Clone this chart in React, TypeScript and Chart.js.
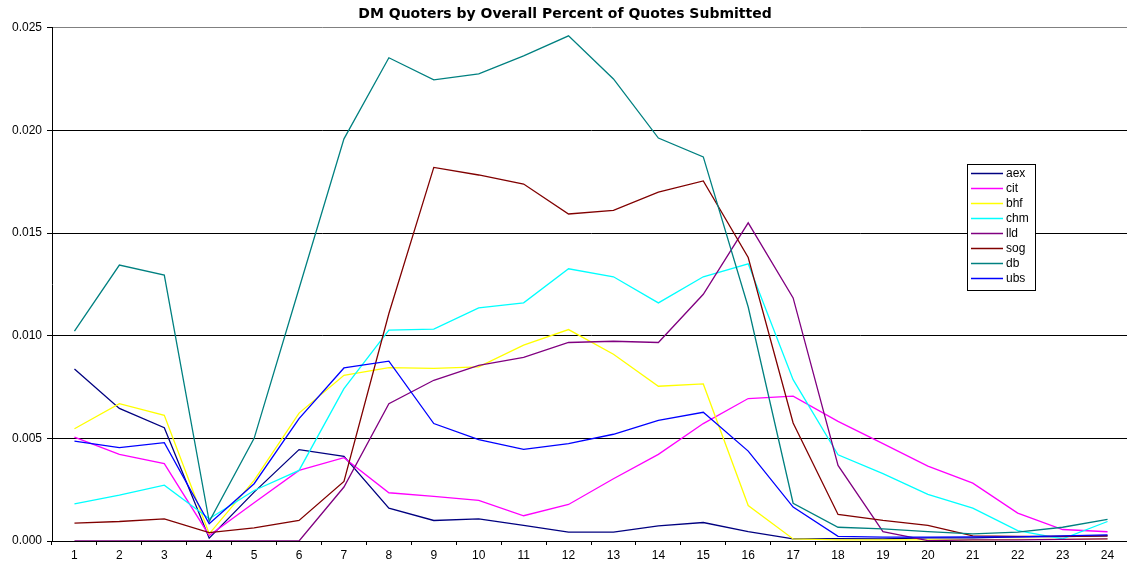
import React, { useEffect, useRef } from "react";
import { Chart, registerables } from "chart.js";

Chart.register(...registerables);

const categories = ["1","2","3","4","5","6","7","8","9","10","11","12","13","14","15","16","17","18","19","20","21","22","23","24"];

const seriesNames = ["aex", "cit", "bhf", "chm", "lld", "sog", "db", "ubs"];
const seriesColors = ["#000080", "#FF00FF", "#FFFF00", "#00FFFF", "#800080", "#800000", "#008080", "#0000FF"];

const aex = [0.00838, 0.00646, 0.00552, 0.00014, 0.00238, 0.00445, 0.00412, 0.00160, 0.00100, 0.00108, 0.00076, 0.00043, 0.00043, 0.00074, 0.00090, 0.00046, 0.00010, 0.00012, 0.00010, 0.00015, 0.00015, 0.00020, 0.00022, 0.00025];
const cit = [0.00506, 0.00422, 0.00377, 0.00027, 0.00186, 0.00344, 0.00406, 0.00235, 0.00217, 0.00198, 0.00123, 0.00178, 0.00303, 0.00422, 0.00572, 0.00694, 0.00706, 0.00583, 0.00474, 0.00365, 0.00282, 0.00136, 0.00056, 0.00045];
const bhf = [0.00547, 0.00669, 0.00612, 0.00035, 0.00295, 0.00623, 0.00807, 0.00845, 0.00841, 0.00848, 0.00954, 0.01030, 0.00910, 0.00754, 0.00765, 0.00173, 0.00010, 0.00005, 0.00005, 0.00005, 0.00005, 0.00008, 0.00008, 0.00010];
const chm = [0.00181, 0.00223, 0.00272, 0.00108, 0.00246, 0.00344, 0.00742, 0.01027, 0.01032, 0.01136, 0.01160, 0.01326, 0.01287, 0.01160, 0.01287, 0.01350, 0.00786, 0.00420, 0.00328, 0.00227, 0.00160, 0.00051, 0.00010, 0.00095];
const lld = [0, 0, 0, 0, 0, 0, 0.00263, 0.00669, 0.00783, 0.00856, 0.00894, 0.00967, 0.00973, 0.00967, 0.01202, 0.01550, 0.01184, 0.00368, 0.00046, 0.00002, 0.00005, 0.00005, 0.00008, 0.00010];
const sog = [0.00087, 0.00095, 0.00108, 0.00041, 0.00064, 0.00100, 0.00290, 0.01108, 0.01820, 0.01783, 0.01739, 0.01593, 0.01611, 0.01699, 0.01754, 0.01381, 0.00575, 0.00129, 0.00100, 0.00076, 0.00025, 0.00023, 0.00023, 0.00025];
const db = [0.01022, 0.01344, 0.01295, 0.00095, 0.00500, 0.01230, 0.01959, 0.02354, 0.02246, 0.02276, 0.02363, 0.02461, 0.02251, 0.01963, 0.01871, 0.01140, 0.00184, 0.00067, 0.00059, 0.00046, 0.00035, 0.00043, 0.00067, 0.00105];
const ubs = [0.00487, 0.00455, 0.00479, 0.00084, 0.00279, 0.00596, 0.00843, 0.00876, 0.00572, 0.00494, 0.00446, 0.00474, 0.00520, 0.00588, 0.00627, 0.00438, 0.00165, 0.00023, 0.00019, 0.00019, 0.00020, 0.00020, 0.00025, 0.00030];

const seriesValues = [aex, cit, bhf, chm, lld, sog, db, ubs];

const titleText = "DM Quoters by Overall Percent of Quotes Submitted";
const FONT = "'Liberation Sans', Arial, Helvetica, sans-serif";
const TITLE_FONT = "'DejaVu Sans', 'Liberation Sans', Arial, sans-serif";

const boxLegend = {
  id: "boxLegend",
  afterDraw(chart: any, _args: any, opts: any) {
    const ctx = chart.ctx;
    const { x, y, w, h, rowH, lineLen, textGap, padX, firstRow } = opts;
    ctx.save();
    ctx.fillStyle = "#ffffff";
    ctx.fillRect(x, y, w, h);
    ctx.strokeStyle = "#000000";
    ctx.lineWidth = 1;
    ctx.strokeRect(x + 0.5, y + 0.5, w, h);
    ctx.font = `12px ${FONT}`;
    ctx.textBaseline = "middle";
    ctx.textAlign = "left";
    chart.data.datasets.forEach((ds: any, i: number) => {
      const cy = Math.round(y + firstRow + i * rowH) + 0.5;
      ctx.strokeStyle = ds.borderColor;
      ctx.lineWidth = 1.5;
      ctx.beginPath();
      ctx.moveTo(x + padX, cy);
      ctx.lineTo(x + padX + lineLen, cy);
      ctx.stroke();
      ctx.fillStyle = "#000000";
      ctx.fillText(ds.label, x + padX + lineLen + textGap, cy);
    });
    ctx.restore();
  },
};

export default function App() {
  const ref = useRef<HTMLCanvasElement | null>(null);

  useEffect(() => {
    if (!ref.current) return;
    const chart = new Chart(ref.current, {
      type: "line",
      data: {
        labels: categories,
        datasets: seriesNames.map((name, i) => ({
          label: name,
          data: seriesValues[i],
          borderColor: seriesColors[i],
          backgroundColor: seriesColors[i],
          borderWidth: 1.3,
          pointRadius: 0,
          tension: 0,
          fill: false,
          order: seriesNames.length - i,
        })),
      },
      options: {
        responsive: false,
        animation: false,
        devicePixelRatio: 1,
        layout: { padding: 0 },
        plugins: {
          legend: { display: false },
          tooltip: { enabled: false },
          title: {
            display: true,
            text: titleText,
            color: "#000000",
            font: { family: TITLE_FONT, size: 14, weight: "bold", lineHeight: 1.2 },
            padding: { top: 6, bottom: 5 },
          },
          boxLegend: { x: 967, y: 164, w: 68, h: 126, rowH: 15.1, firstRow: 8.7, lineLen: 32, textGap: 3, padX: 4 },
        } as any,
        scales: {
          x: {
            type: "category",
            offset: true,
            grid: {
              display: true,
              offset: true,
              drawOnChartArea: false,
              drawTicks: true,
              tickLength: 4,
              color: "#000000",
            },
            border: { display: true, color: "#000000", width: 1 },
            ticks: {
              color: "#000000",
              font: { family: FONT, size: 12 },
              padding: 3,
              maxRotation: 0,
              autoSkip: false,
            },
            afterFit: (scale: any) => {
              scale.height = 23;
            },
          },
          y: {
            type: "linear",
            min: 0,
            max: 0.025,
            grid: {
              color: (c: any) => (c.tick && Math.abs(c.tick.value - 0.025) < 1e-9 ? "#808080" : "#000000"),
              tickColor: "#000000",
              tickLength: 5,
              lineWidth: 1,
            },
            border: { display: true, color: "#000000", width: 1 },
            ticks: {
              stepSize: 0.005,
              color: "#000000",
              font: { family: FONT, size: 12 },
              padding: 5,
              callback: (v: any) => Number(v).toFixed(3),
            },
            afterFit: (scale: any) => {
              scale.width = 52;
            },
          },
        },
      },
      plugins: [boxLegend],
    });
    return () => chart.destroy();
  }, []);

  return (
    <div style={{ position: "fixed", left: 0, top: 0, width: 1127, height: 564, overflow: "hidden", background: "#ffffff" }}>
      <canvas ref={ref} width={1130} height={564} style={{ display: "block" }} />
    </div>
  );
}
